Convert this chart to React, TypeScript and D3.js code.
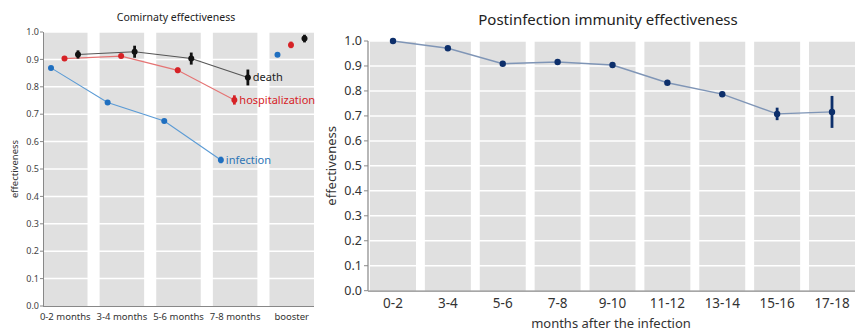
import React from 'react';
import * as d3 from 'd3';

// left panel data
const vaxCategories = ['0-2 months', '3-4 months', '5-6 months', '7-8 months', 'booster'];
const seriesNames = ['infection', 'hospitalization', 'death'];
const infection = [0.869, 0.743, 0.675, 0.533, 0.917];
const infectionErr = [0.004, 0.004, 0.004, 0.012, 0.005];
const hospitalization = [0.903, 0.912, 0.86, 0.752, 0.953];
const hospitalizationErr = [0.009, 0.008, 0.01, 0.017, 0.012];
const death = [0.918, 0.928, 0.903, 0.834, 0.976];
const deathErr = [0.015, 0.022, 0.022, 0.029, 0.014];
const leftTicks = [0, 0.1, 0.2, 0.3, 0.4, 0.5, 0.6, 0.7, 0.8, 0.9, 1.0];

// right panel data
const monthGroups = ['0-2', '3-4', '5-6', '7-8', '9-10', '11-12', '13-14', '15-16', '17-18'];
const postInfection = [1.0, 0.971, 0.909, 0.916, 0.904, 0.833, 0.787, 0.708, 0.716];
const postInfectionErr = [0.003, 0.004, 0.004, 0.005, 0.004, 0.006, 0.01, 0.025, 0.064];
const rightTicks = leftTicks;

const FONT = '"Noto Sans", sans-serif';
const BAND = '#e0e0e0';
const AXIS = '#888';

const series = [
  { name: 'infection', values: infection, err: infectionErr, color: '#1f6fc0', line: '#5b9bd5', label: '#2e75b6' },
  { name: 'hospitalization', values: hospitalization, err: hospitalizationErr, color: '#d62226', line: '#e57373', label: '#d62226' },
  { name: 'death', values: death, err: deathErr, color: '#111', line: '#555', label: '#222' },
];

const LeftChart = () => {
  const x = d3.scaleBand().domain(vaxCategories).range([43, 314]).paddingInner(0.214).paddingOuter(0);
  const y = d3.scaleLinear().domain([0, 1]).range([306, 32]);
  const sub = d3.scalePoint().domain(seriesNames).range([8, 35]);
  const px = (cat, name) => x(cat) + sub(name);
  const lineCats = vaxCategories.slice(0, 4);

  return (
    <g fontFamily={FONT}>
      <text x={176} y={21} fontSize={10.5} textAnchor="middle" fill="#222">Comirnaty effectiveness</text>
      {vaxCategories.map(c => (
        <rect key={c} x={x(c)} y={y(1)} width={x.bandwidth()} height={y(0) - y(1)} fill={BAND} />
      ))}
      {leftTicks.slice(1).map(t => (
        <line key={t} x1={43} x2={314} y1={y(t)} y2={y(t)} stroke="#fff" strokeWidth={1.5} />
      ))}
      <line x1={43.5} x2={43.5} y1={y(1)} y2={y(0)} stroke={AXIS} />
      <line x1={43} x2={314} y1={y(0) + 0.5} y2={y(0) + 0.5} stroke={AXIS} />
      {leftTicks.map(t => (
        <g key={t}>
          <line x1={40} x2={43} y1={y(t)} y2={y(t)} stroke={AXIS} />
          <text x={39} y={y(t)} dy="0.35em" fontSize={9} textAnchor="end" fill="#444">{t.toFixed(1)}</text>
        </g>
      ))}
      {vaxCategories.map(c => (
        <text key={c} x={x(c) + x.bandwidth() / 2} y={320} fontSize={9.5} textAnchor="middle" fill="#333">{c}</text>
      ))}
      <text transform={`translate(18,${(y(0) + y(1)) / 2}) rotate(-90)`} fontSize={9.5} textAnchor="middle" fill="#333">effectiveness</text>
      {series.map(s => {
        const line = d3.line<string>().x(c => px(c, s.name)).y(c => y(s.values[vaxCategories.indexOf(c)]));
        return <path key={s.name} d={line(lineCats) || ''} fill="none" stroke={s.line} strokeWidth={1.1} />;
      })}
      {series.map(s =>
        vaxCategories.map((c, i) => (
          <g key={s.name + c}>
            <line x1={px(c, s.name)} x2={px(c, s.name)} y1={y(s.values[i] - s.err[i])} y2={y(s.values[i] + s.err[i])} stroke={s.color} strokeWidth={2.8} />
            <circle cx={px(c, s.name)} cy={y(s.values[i])} r={3} fill={s.color} />
          </g>
        ))
      )}
      {series.map(s => (
        <text key={s.name} x={px(vaxCategories[3], s.name) + 5} y={y(s.values[3])} dy="0.35em" fontSize={11} fill={s.label}>{s.name}</text>
      ))}
    </g>
  );
};

const RightChart = () => {
  const x = d3.scaleBand().domain(monthGroups).range([370, 855]).paddingInner(0.162).paddingOuter(0);
  const y = d3.scaleLinear().domain([0, 1]).range([290.7, 41]);
  const cx = (c) => x(c) + x.bandwidth() / 2;
  const line = d3.line<number>().x((_, i) => cx(monthGroups[i])).y(v => y(v));

  return (
    <g fontFamily={FONT}>
      <text x={608} y={25} fontSize={15} textAnchor="middle" fill="#222">Postinfection immunity effectiveness</text>
      {monthGroups.map(c => (
        <rect key={c} x={x(c)} y={y(1)} width={x.bandwidth()} height={y(0) - y(1)} fill={BAND} />
      ))}
      {rightTicks.slice(1).map(t => (
        <line key={t} x1={368} x2={855} y1={y(t)} y2={y(t)} stroke="#fff" strokeWidth={1.5} />
      ))}
      <line x1={368} x2={368} y1={y(1)} y2={y(0)} stroke={AXIS} strokeWidth={1.2} />
      <line x1={368} x2={855} y1={y(0) + 0.5} y2={y(0) + 0.5} stroke={AXIS} strokeWidth={1.2} />
      {rightTicks.map(t => (
        <g key={t}>
          <line x1={364} x2={368} y1={y(t)} y2={y(t)} stroke={AXIS} />
          <text x={362} y={y(t)} dy="0.35em" fontSize={12.5} textAnchor="end" fill="#333">{t.toFixed(1)}</text>
        </g>
      ))}
      {monthGroups.map(c => (
        <text key={c} x={cx(c)} y={308} fontSize={13.5} textAnchor="middle" fill="#333">{c}</text>
      ))}
      <text x={611} y={328} fontSize={13} textAnchor="middle" fill="#333">months after the infection</text>
      <text transform={`translate(336,${(y(0) + y(1)) / 2}) rotate(-90)`} fontSize={13} textAnchor="middle" fill="#333">effectiveness</text>
      <path d={line(postInfection) || ''} fill="none" stroke="#7f95b6" strokeWidth={1.4} />
      {monthGroups.map((c, i) => (
        <g key={c}>
          <line x1={cx(c)} x2={cx(c)} y1={y(postInfection[i] - postInfectionErr[i])} y2={y(postInfection[i] + postInfectionErr[i])} stroke="#0d2f6b" strokeWidth={2.8} />
          <circle cx={cx(c)} cy={y(postInfection[i])} r={3.2} fill="#0d2f6b" />
        </g>
      ))}
    </g>
  );
};

export default function App() {
  return (
    <svg width={855} height={331} style={{ position: 'absolute', left: 0, top: 0, background: '#fff' }}>
      <LeftChart />
      <RightChart />
    </svg>
  );
}
